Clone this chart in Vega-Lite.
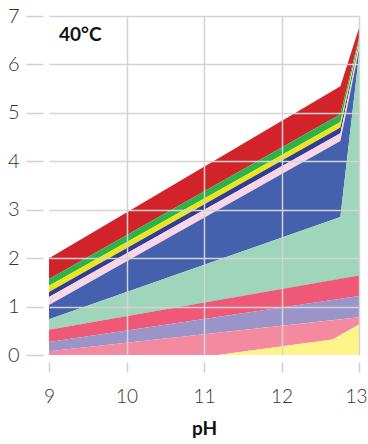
{
  "$schema": "https://vega.github.io/schema/vega-lite/v6.json",
  "width": 310,
  "height": 339,
  "autosize": {"type": "none"},
  "padding": {"left": 49, "top": 16, "right": 9, "bottom": 89},
  "config": {"view": {"stroke": null}, "font": "Lato"},
  "datasets": {
    "bands": [
      {"band": "red", "pH": 9, "lo": 1.57, "hi": 2.0},
      {"band": "red", "pH": 12.76, "lo": 4.97, "hi": 5.55},
      {"band": "red", "pH": 13, "lo": 6.55, "hi": 6.75},
      {"band": "green", "pH": 9, "lo": 1.43, "hi": 1.57},
      {"band": "green", "pH": 12.76, "lo": 4.81, "hi": 4.97},
      {"band": "green", "pH": 13, "lo": 6.5, "hi": 6.55},
      {"band": "yellow", "pH": 9, "lo": 1.3, "hi": 1.43},
      {"band": "yellow", "pH": 12.76, "lo": 4.7, "hi": 4.81},
      {"band": "yellow", "pH": 13, "lo": 6.45, "hi": 6.5},
      {"band": "navy", "pH": 9, "lo": 1.2, "hi": 1.3},
      {"band": "navy", "pH": 12.76, "lo": 4.58, "hi": 4.7},
      {"band": "navy", "pH": 13, "lo": 6.4, "hi": 6.45},
      {"band": "lightpink", "pH": 9, "lo": 1.03, "hi": 1.2},
      {"band": "lightpink", "pH": 12.76, "lo": 4.42, "hi": 4.58},
      {"band": "lightpink", "pH": 13, "lo": 6.3, "hi": 6.4},
      {"band": "blue", "pH": 9, "lo": 0.74, "hi": 1.03},
      {"band": "blue", "pH": 12.76, "lo": 2.85, "hi": 4.42},
      {"band": "blue", "pH": 13, "lo": 6.2, "hi": 6.3},
      {"band": "mint", "pH": 9, "lo": 0.52, "hi": 0.74},
      {"band": "mint", "pH": 12.76, "lo": 1.57, "hi": 2.85},
      {"band": "mint", "pH": 13, "lo": 1.64, "hi": 6.2},
      {"band": "redpink", "pH": 9, "lo": 0.27, "hi": 0.52},
      {"band": "redpink", "pH": 13, "lo": 1.22, "hi": 1.64},
      {"band": "lavender", "pH": 9, "lo": 0.08, "hi": 0.27},
      {"band": "lavender", "pH": 13, "lo": 0.78, "hi": 1.22},
      {"band": "pink", "pH": 9, "lo": 0, "hi": 0.08},
      {"band": "pink", "pH": 11.18, "lo": 0, "hi": 0.46},
      {"band": "pink", "pH": 12.66, "lo": 0.32, "hi": 0.72},
      {"band": "pink", "pH": 13, "lo": 0.63, "hi": 0.78},
      {"band": "paleyellow", "pH": 11.18, "lo": 0, "hi": 0},
      {"band": "paleyellow", "pH": 12.66, "lo": 0, "hi": 0.32},
      {"band": "paleyellow", "pH": 13, "lo": 0, "hi": 0.63}
    ],
    "label": [{"t": "40°C"}]
  },
  "layer": [
    {
      "data": {"name": "bands"},
      "mark": {"type": "area", "interpolate": "linear", "opacity": 1},
      "encoding": {
        "x": {
          "field": "pH",
          "type": "quantitative",
          "scale": {"domain": [9, 13], "nice": false, "zero": false},
          "axis": {
            "title": "pH",
            "values": [9, 10, 11, 12, 13],
            "format": "d",
            "domain": false,
            "offset": 7,
            "tickSize": 10,
            "tickColor": "#cfcfcf",
            "tickWidth": 1.5,
            "labelFontSize": 19,
            "labelColor": "#333333",
            "labelFontWeight": 300,
            "labelPadding": 15,
            "labelOffset": {"condition": {"test": "datum.value === 13", "value": -3}, "value": 0},
            "labelFlush": false,
            "labelOverlap": false,
            "labelBound": false,
            "grid": true,
            "gridColor": {"condition": {"test": "datum.value === 9", "value": "transparent"}, "value": "#d4d4d4"},
            "gridWidth": 1.5,
            "titleFontSize": 19,
            "titleFontWeight": "bold",
            "titleColor": "#111111",
            "titlePadding": 13,
            "zindex": 1
          }
        },
        "y": {
          "field": "lo",
          "type": "quantitative",
          "scale": {"domain": [0, 7], "nice": false},
          "axis": {
            "title": null,
            "values": [0, 1, 2, 3, 4, 5, 6, 7],
            "format": "d",
            "domain": false,
            "offset": 6,
            "tickSize": 17,
            "tickColor": "#cfcfcf",
            "tickWidth": 1.5,
            "labelFontSize": 20,
            "labelColor": "#333333",
            "labelFontWeight": 300,
            "labelPadding": 7,
            "labelFlush": false,
            "labelOverlap": false,
            "labelBound": false,
            "grid": true,
            "gridColor": {"condition": {"test": "datum.value === 0", "value": "transparent"}, "value": "#d4d4d4"},
            "gridWidth": 1.5,
            "zindex": 1
          }
        },
        "y2": {"field": "hi"},
        "color": {
          "field": "band",
          "type": "nominal",
          "scale": {
            "domain": ["red", "green", "yellow", "navy", "lightpink", "blue", "mint", "redpink", "lavender", "pink", "paleyellow"],
            "range": ["#d2232a", "#2eb24a", "#ece51b", "#2f3d96", "#fad5e5", "#4561ad", "#9fd6bb", "#ef5877", "#9b94c8", "#f48aa0", "#fff48a"]
          },
          "legend": null
        }
      }
    },
    {
      "mark": {"type": "rule", "color": "#26388c", "strokeWidth": 2},
      "encoding": {"y": {"datum": 0}}
    },
    {
      "mark": {"type": "rule", "color": "#26388c", "strokeWidth": 1.5},
      "encoding": {"x": {"datum": 9}}
    },
    {
      "data": {"name": "label"},
      "mark": {"type": "text", "align": "left", "baseline": "alphabetic", "fontSize": 19, "fontWeight": "bold", "color": "#111111"},
      "encoding": {
        "x": {"datum": 9.13},
        "y": {"datum": 6.48},
        "text": {"field": "t"}
      }
    }
  ]
}
